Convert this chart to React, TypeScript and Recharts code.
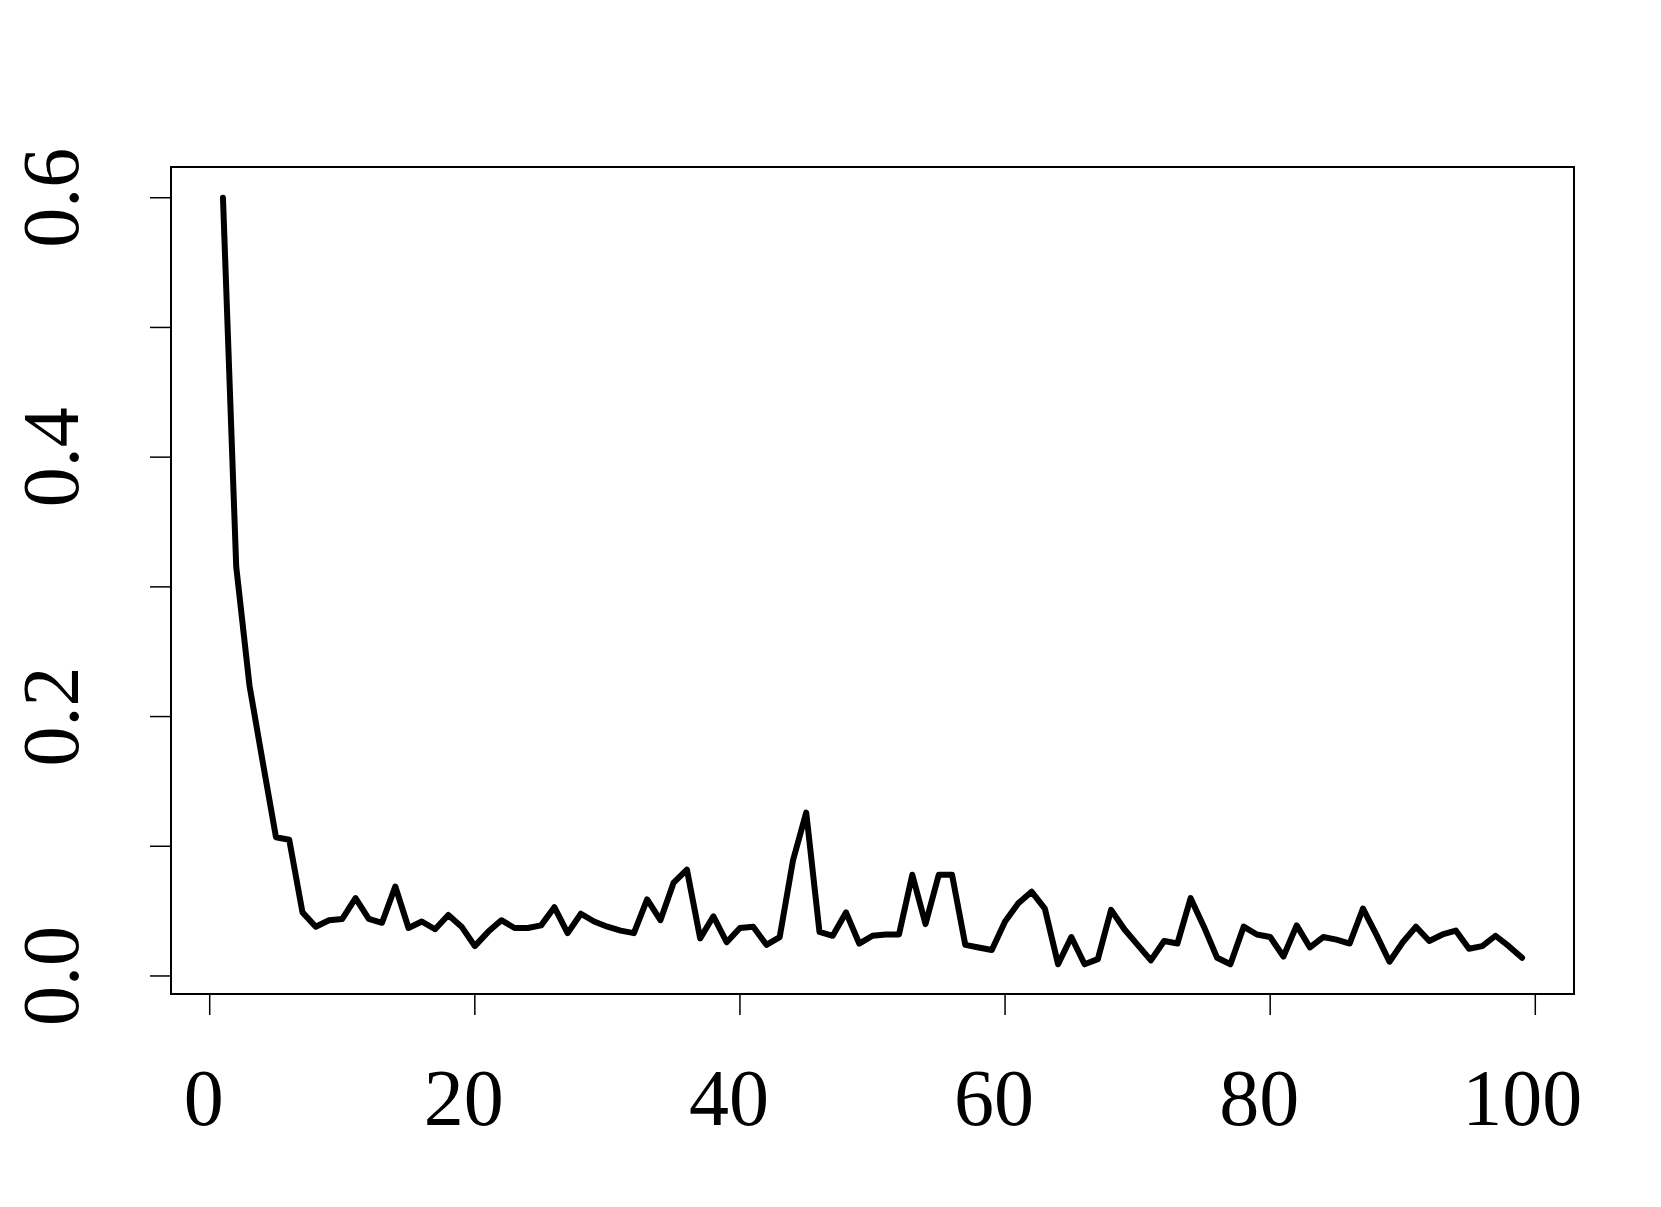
import { LineChart, Line, XAxis, YAxis, ReferenceArea } from "recharts";

// series, index 1..99
const values = [
  0.6, 0.3156, 0.224, 0.165, 0.107, 0.105, 0.049, 0.038, 0.043, 0.044,
  0.06, 0.044, 0.041, 0.069, 0.037, 0.042, 0.036, 0.047, 0.038, 0.023,
  0.034, 0.043, 0.037, 0.037, 0.039, 0.053, 0.033, 0.048, 0.042, 0.038,
  0.035, 0.033, 0.059, 0.043, 0.072, 0.082, 0.029, 0.046, 0.026, 0.037,
  0.038, 0.024, 0.03, 0.089, 0.126, 0.034, 0.031, 0.049, 0.025, 0.031,
  0.032, 0.032, 0.078, 0.04, 0.078, 0.078, 0.024, 0.022, 0.02, 0.042,
  0.056, 0.065, 0.052, 0.009, 0.03, 0.009, 0.013, 0.051, 0.036, 0.024,
  0.012, 0.027, 0.025, 0.06, 0.038, 0.014, 0.009, 0.038, 0.032, 0.03,
  0.015, 0.039, 0.022, 0.03, 0.028, 0.025, 0.052, 0.032, 0.011, 0.026,
  0.038, 0.027, 0.032, 0.035, 0.021, 0.023, 0.031, 0.023, 0.014,
];

const xTicks = [0, 20, 40, 60, 80, 100];
const yTicks = [0, 0.1, 0.2, 0.3, 0.4, 0.5, 0.6];
const yLabelled = [0, 0.2, 0.4, 0.6];

// R-style 4% padding around the data range
const xDomain: [number, number] = [-2.92, 102.92];
const yDomain: [number, number] = [-0.0139, 0.6237];

const FONT = "'Liberation Serif', 'DejaVu Serif', serif";
const FONT_SIZE = 80;

const data = values.map((v, i) => ({ x: i + 1, y: v }));

// labels in the original sit a little left of their ticks
const xShift = [-6, -11, -13];

function XTick(props: any) {
  const { x, payload } = props;
  const label = String(payload.value);
  return (
    <text
      x={x + xShift[label.length - 1]}
      y={1125}
      textAnchor="middle"
      fontFamily={FONT}
      fontSize={FONT_SIZE}
      fill="#000"
    >
      {label}
    </text>
  );
}

function YTick(props: any) {
  const { y, payload } = props;
  const v = payload.value;
  if (!yLabelled.some((t) => Math.abs(t - v) < 1e-9)) return null;
  return (
    <text
      x={78}
      y={y}
      transform={`rotate(-90 78 ${y})`}
      textAnchor="middle"
      fontFamily={FONT}
      fontSize={FONT_SIZE}
      fill="#000"
    >
      {v.toFixed(1)}
    </text>
  );
}

export default function App() {
  return (
    <div
      style={{
        position: "absolute",
        left: 0,
        top: 0,
        width: 1661,
        height: 1207,
        background: "#fff",
      }}
    >
      <LineChart
        width={1661}
        height={1207}
        data={data}
        margin={{ top: 167, right: 87, bottom: 0, left: 0 }}
      >
        <XAxis
          type="number"
          dataKey="x"
          domain={xDomain}
          ticks={xTicks}
          allowDataOverflow
          axisLine={false}
          tickSize={21}
          tickLine={{ stroke: "#000", strokeWidth: 1.5 }}
          tick={<XTick />}
          height={213}
          interval={0}
        />
        <YAxis
          type="number"
          dataKey="y"
          domain={yDomain}
          ticks={yTicks}
          allowDataOverflow
          axisLine={false}
          tickSize={21}
          tickLine={{ stroke: "#000", strokeWidth: 1.5 }}
          tick={<YTick />}
          width={171}
          interval={0}
        />
        <ReferenceArea
          x1={xDomain[0]}
          x2={xDomain[1]}
          y1={yDomain[0]}
          y2={yDomain[1]}
          fill="none"
          fillOpacity={0}
          stroke="#000"
          strokeWidth={2}
        />
        <Line
          type="linear"
          dataKey="y"
          stroke="#000"
          strokeWidth={6}
          strokeLinejoin="round"
          strokeLinecap="round"
          dot={false}
          isAnimationActive={false}
        />
      </LineChart>
    </div>
  );
}
